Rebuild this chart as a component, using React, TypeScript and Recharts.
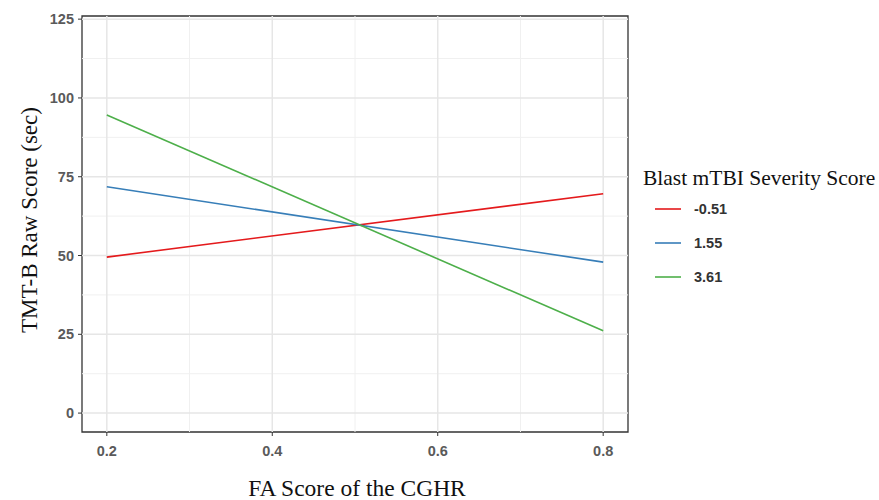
import React from "react";
import {
  LineChart,
  Line,
  XAxis,
  YAxis,
  ReferenceLine,
  ReferenceArea,
  Legend,
  Label,
} from "recharts";

// ---- data ----
const faScores = [0.2, 0.8];
const severityLabels = ["-0.51", "1.55", "3.61"];
const lowSeverity = [49.5, 69.6];
const midSeverity = [71.8, 47.9];
const highSeverity = [94.6, 26.1];
const seriesColors = ["#E41A1C", "#377EB8", "#4DAF4A"];

const xTicks = [0.2, 0.4, 0.6, 0.8];
const xMinor = [0.3, 0.5, 0.7];
const yTicks = [0, 25, 50, 75, 100, 125];
const yMinor = [12.5, 37.5, 62.5, 87.5, 112.5];
const xDomain = [0.17, 0.83];
const yDomain = [-6, 126];

const seriesValues = [lowSeverity, midSeverity, highSeverity];
const data = faScores.map((x, i) => {
  const row: Record<string, number> = { x };
  severityLabels.forEach((name, s) => {
    row[name] = seriesValues[s][i];
  });
  return row;
});

const tickStyle = {
  fontFamily: "Liberation Sans, Arial, sans-serif",
  fontSize: 14.5,
  fill: "#5a5a5a",
  fontWeight: 600,
};

const LegendContent = () => (
  <div style={{ fontFamily: "Liberation Serif, Times New Roman, serif" }}>
    <div style={{ fontSize: 21.5, color: "#111", lineHeight: "28px", whiteSpace: "nowrap" }}>
      Blast mTBI Severity Score
    </div>
    {severityLabels.map((name, i) => (
      <div
        key={name}
        style={{ display: "flex", alignItems: "center", height: 34, marginLeft: 12 }}
      >
        <svg width={27} height={10} style={{ display: "block" }}>
          <line x1={0} y1={5} x2={26} y2={5} stroke={seriesColors[i]} strokeWidth={1.6} />
        </svg>
        <span
          style={{
            marginLeft: 12,
            fontFamily: "Liberation Sans, Arial, sans-serif",
            fontSize: 14.5,
            fontWeight: 700,
            color: "#333",
          }}
        >
          {name}
        </span>
      </div>
    ))}
  </div>
);

export default function App() {
  return (
    <div style={{ position: "absolute", left: 0, top: 0, width: 879, height: 500, background: "#fff" }}>
      <LineChart
        width={879}
        height={500}
        data={data}
        margin={{ top: 16, right: 15, bottom: 12, left: 42 }}
      >
        <XAxis
          dataKey="x"
          type="number"
          domain={xDomain}
          ticks={xTicks}
          allowDataOverflow
          axisLine={false}
          tickLine={{ stroke: "#333", strokeWidth: 1 }}
          tickSize={4}
          tick={tickStyle}
          tickMargin={10}
          height={56}
          tickFormatter={(v: number) => v.toFixed(1)}
        >
          <Label
            content={({ viewBox }: any) => (
              <text
                x={viewBox.x + viewBox.width / 2 + 2}
                y={viewBox.y + viewBox.height + 8}
                textAnchor="middle"
                fontFamily="Liberation Serif, Times New Roman, serif"
                fontSize={23.5}
                fill="#111"
              >
                FA Score of the CGHR
              </text>
            )}
          />
        </XAxis>
        <YAxis
          type="number"
          domain={yDomain}
          ticks={yTicks}
          allowDataOverflow
          axisLine={false}
          tickLine={{ stroke: "#333", strokeWidth: 1 }}
          tickSize={4}
          tick={tickStyle}
          tickMargin={4}
          width={40}
        >
          <Label
            content={({ viewBox }: any) => (
              <text
                x={0}
                y={0}
                transform={`translate(${viewBox.x - 5}, ${viewBox.y + viewBox.height / 2 - 4}) rotate(-90)`}
                textAnchor="middle"
                fontFamily="Liberation Serif, Times New Roman, serif"
                fontSize={23}
                fill="#111"
              >
                TMT-B Raw Score (sec)
              </text>
            )}
          />
        </YAxis>
        {yMinor.map((v) => (
          <ReferenceLine key={"ym" + v} y={v} stroke="#f0f0f0" strokeWidth={1} />
        ))}
        {xMinor.map((v) => (
          <ReferenceLine key={"xm" + v} x={v} stroke="#f0f0f0" strokeWidth={1} />
        ))}
        {yTicks.map((v) => (
          <ReferenceLine key={"y" + v} y={v} stroke="#e6e6e6" strokeWidth={1.5} />
        ))}
        {xTicks.map((v) => (
          <ReferenceLine key={"x" + v} x={v} stroke="#e6e6e6" strokeWidth={1.5} />
        ))}
        {severityLabels.map((name, i) => (
          <Line
            key={name}
            dataKey={name}
            stroke={seriesColors[i]}
            strokeWidth={1.6}
            dot={false}
            isAnimationActive={false}
          />
        ))}
        <ReferenceArea
          x1={xDomain[0]}
          x2={xDomain[1]}
          y1={yDomain[0]}
          y2={yDomain[1]}
          fill="none"
          stroke="#333"
          strokeWidth={1.3}
          ifOverflow="visible"
        />
        <Legend
          layout="vertical"
          align="right"
          verticalAlign="top"
          content={<LegendContent />}
          wrapperStyle={{ position: "absolute", left: 643, top: 164, width: 236 }}
        />
      </LineChart>
    </div>
  );
}
